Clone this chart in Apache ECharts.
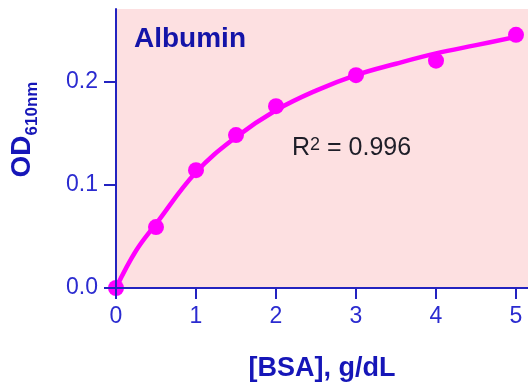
<!DOCTYPE html>
<html>
<head>
<meta charset="utf-8">
<script src="https://cdn.jsdelivr.net/npm/echarts@6/dist/echarts.min.js"></script>
<style>
html,body{margin:0;padding:0;background:#fff;}
#chart{width:528px;height:387px;}
</style>
</head>
<body>
<div id="chart"></div>
<script>
// Measured standards: BSA concentration (g/dL) vs OD610nm
const bsaConc = [0, 0.5, 1, 1.5, 2, 3, 4, 5];
const odValues = [0, 0.059, 0.114, 0.148, 0.176, 0.206, 0.220, 0.245];
// Fitted curve
const fitConc = [0, 0.25, 0.5, 1, 1.5, 2, 2.5, 3, 3.5, 4, 4.5, 5];
const fitOD = [0, 0.036, 0.062, 0.112, 0.146, 0.172, 0.191, 0.206, 0.217, 0.227, 0.235, 0.243];
const xTicks = [0, 1, 2, 3, 4, 5];
const yTicks = [0, 0.1, 0.2];

const FONT = '"Liberation Sans", Arial, sans-serif';
const AXIS_BLUE = '#2323c0';
const LABEL_BLUE = '#2b2bd0';
const MAGENTA = '#ff00ff';

const chart = echarts.init(document.getElementById('chart'), null, {renderer: 'canvas'});
chart.setOption({
  animation: false,
  backgroundColor: '#ffffff',
  grid: {
    left: 116, top: 9, right: 0, bottom: 98,
    show: true, backgroundColor: '#fde0e1', borderWidth: 0
  },
  xAxis: {
    type: 'value', min: 0, max: 5.15, interval: 1, z: 5,
    name: '[BSA], g/dL', nameLocation: 'middle', nameGap: 67,
    nameTextStyle: {fontFamily: FONT, fontWeight: 'bold', fontSize: 27, color: '#1616b8'},
    axisLine: {show: true, onZero: false, lineStyle: {color: AXIS_BLUE, width: 2}},
    axisTick: {show: true, length: 11, customValues: xTicks, lineStyle: {color: AXIS_BLUE, width: 2}},
    axisLabel: {customValues: xTicks, margin: 17, fontFamily: FONT, fontSize: 23, color: LABEL_BLUE,
      formatter: v => String(v)},
    splitLine: {show: false}
  },
  yAxis: {
    type: 'value', min: 0, max: 0.27, interval: 0.1, z: 5,
    name: '{a|OD}{b|610nm}', nameLocation: 'middle', nameGap: 80,
    nameTextStyle: {
      padding: [0, 0, 0, 38],
      rich: {
        a: {fontFamily: FONT, fontWeight: 'bold', fontSize: 28, color: '#1616b8', verticalAlign: 'bottom'},
        b: {fontFamily: FONT, fontWeight: 'bold', fontSize: 17, color: '#1616b8', verticalAlign: 'bottom', padding: [0,0,-5,0]}
      }
    },
    axisLine: {show: true, onZero: false, lineStyle: {color: AXIS_BLUE, width: 2}},
    axisTick: {show: true, length: 12, customValues: yTicks, lineStyle: {color: AXIS_BLUE, width: 2}},
    axisLabel: {customValues: yTicks, margin: 18, fontFamily: FONT, fontSize: 23, color: LABEL_BLUE,
      formatter: v => v.toFixed(1)},
    splitLine: {show: false}
  },
  series: [
    {
      type: 'line', name: 'fit', smooth: 0.4, symbol: 'none', clip: false, z: 2,
      data: fitConc.map((x, i) => [x, fitOD[i]]),
      lineStyle: {color: MAGENTA, width: 4.5}
    },
    {
      type: 'scatter', name: 'standards', clip: false, z: 3,
      symbol: 'circle', symbolSize: 16,
      data: bsaConc.map((x, i) => [x, odValues[i]]),
      itemStyle: {color: MAGENTA, opacity: 1}
    }
  ],
  graphic: [
    {
      type: 'text', left: 134, top: 25, z: 10,
      style: {text: 'Albumin', font: 'bold 28px ' + FONT, fill: '#1414a8'}
    },
    {
      type: 'text', left: 292, top: 136, z: 10,
      style: {
        text: '{r|R}{s|2}{r| = 0.996}',
        rich: {
          r: {fontFamily: FONT, fontSize: 25, fill: '#1e1e28', color: '#1e1e28', verticalAlign: 'bottom'},
          s: {fontFamily: FONT, fontSize: 18, fill: '#1e1e28', color: '#1e1e28', verticalAlign: 'top'}
        }
      }
    }
  ]
});
</script>
</body>
</html>
